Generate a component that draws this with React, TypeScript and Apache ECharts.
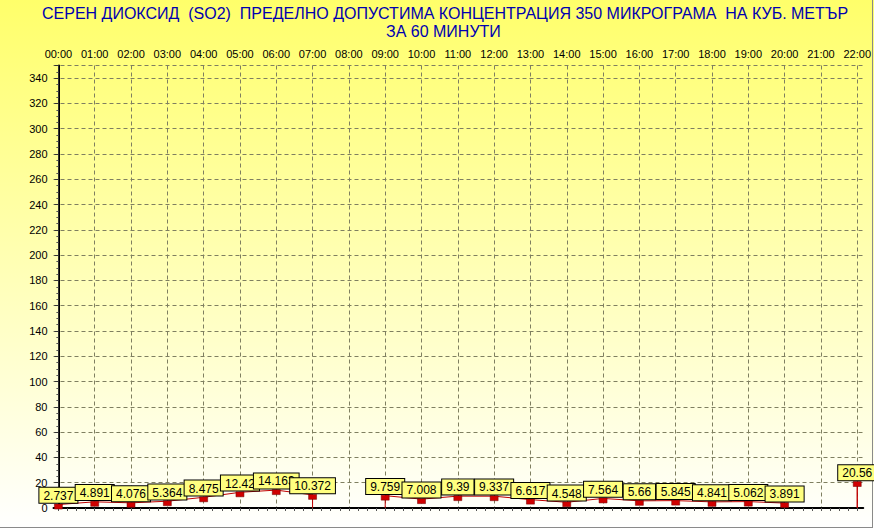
import React, { useEffect, useRef } from "react";
import * as echarts from "echarts";

const titleLine1 = "СЕРЕН ДИОКСИД  (SO2)  ПРЕДЕЛНО ДОПУСТИМА КОНЦЕНТРАЦИЯ 350 МИКРОГРАМА  НА КУБ. МЕТЪР";
const titleLine2 = "ЗА 60 МИНУТИ";

const hours = [
  "00:00", "01:00", "02:00", "03:00", "04:00", "05:00", "06:00", "07:00",
  "08:00", "09:00", "10:00", "11:00", "12:00", "13:00", "14:00", "15:00",
  "16:00", "17:00", "18:00", "19:00", "20:00", "21:00", "22:00",
];

const values: (number | null)[] = [
  2.737, 4.891, 4.076, 5.364, 8.475, 12.42, 14.163, 10.372,
  null, 9.759, 7.008, 9.39, 9.337, 6.617, 4.548, 7.564,
  5.66, 5.845, 4.841, 5.062, 3.891, null, 20.56,
];

const yMin = 0;
const yMax = 350;
const yStep = 20;

export default function App() {
  const ref = useRef<HTMLDivElement>(null);

  useEffect(() => {
    document.body.style.margin = "0";
    if (!ref.current) return;
    const chart = echarts.init(ref.current, null, { renderer: "svg" });

    const hourIdx = hours.map((_, i) => i);
    const quarterTicks: number[] = [];
    for (let i = 0; i < hours.length - 1; i++) {
      for (let q = 0; q < 4; q++) quarterTicks.push(i + q / 4);
    }
    quarterTicks.push(hours.length - 1);

    const xMin = -0.135;
    const xMax = hours.length - 1 + 0.165;

    const lineData: any[] = [];
    values.forEach((v, i) => {
      if (v == null) {
        lineData.push([i, "-"]);
        return;
      }
      const prevMissing = i === 0 || values[i - 1] == null;
      const nextMissing = i === values.length - 1 || values[i + 1] == null;
      if (prevMissing) lineData.push({ value: [i, 0], symbol: "none", label: { show: false } });
      lineData.push({ value: [i, v] });
      if (nextMissing) lineData.push({ value: [i, 0], symbol: "none", label: { show: false } });
    });

    const gridDash = { color: "#7f7f60", width: 1, type: [4, 3] as any };
    const font = "Liberation Sans, Arial";

    chart.setOption({
      animation: false,
      backgroundColor: {
        type: "linear",
        x: 0, y: 0, x2: 0, y2: 1,
        colorStops: [
          { offset: 0, color: "#ffff6a" },
          { offset: 1, color: "#ffffff" },
        ],
      },
      title: [
        {
          text: titleLine1,
          left: 42,
          top: 5,
          padding: 0,
          textStyle: { fontFamily: font, fontSize: 16, fontWeight: "normal", color: "#0000b0" },
        },
        {
          text: titleLine2,
          left: 386,
          top: 23,
          padding: 0,
          textStyle: { fontFamily: font, fontSize: 16, fontWeight: "normal", color: "#0000b0" },
        },
      ],
      grid: { left: 53.5, right: 9, top: 65.5, bottom: 21, containLabel: false },
      xAxis: [
        {
          type: "value",
          position: "top",
          min: xMin,
          max: xMax,
          axisLine: { show: false, lineStyle: { color: "#000" } },
          axisTick: { show: false, customValues: hourIdx },
          axisLabel: {
            customValues: hourIdx,
            formatter: (v: number) => hours[Math.round(v)] ?? "",
            color: "#000000",
            fontFamily: font,
            fontSize: 11,
            margin: 6,
          },
          splitLine: { show: true, lineStyle: gridDash },
        },
        {
          type: "value",
          position: "top",
          min: xMin,
          max: xMax,
          axisLine: { show: true, lineStyle: { color: "#000", width: 2 } },
          axisTick: { show: true, inside: true, length: 3, customValues: quarterTicks, lineStyle: { color: "#555", width: 1 } },
          axisLabel: { show: false },
          splitLine: { show: false },
        },
        {
          type: "value",
          position: "bottom",
          min: xMin,
          max: xMax,
          axisLine: { show: true, onZero: false, lineStyle: { color: "#000", width: 1, type: [3, 2] } },
          axisTick: { show: false },
          axisLabel: { show: false },
          splitLine: { show: false },
        },
      ],
      yAxis: [
        {
          type: "value",
          position: "left",
          min: yMin,
          max: yMax,
          interval: yStep,
          axisLine: { show: true, lineStyle: { color: "#000", width: 2 } },
          axisTick: { show: true, length: 4, lineStyle: { color: "#333" } },
          minorTick: { show: true, splitNumber: 4, length: 2, lineStyle: { color: "#555" } },
          axisLabel: {
            showMaxLabel: false,
            color: "#000",
            fontFamily: font,
            fontSize: 11,
            margin: 6,
          },
          splitLine: { show: true, lineStyle: gridDash },
        },
        {
          type: "value",
          position: "right",
          min: yMin,
          max: yMax,
          axisLine: { show: true, lineStyle: { color: "#333", width: 1 } },
          axisTick: { show: false },
          axisLabel: { show: false },
          splitLine: { show: false },
        },
      ],
      graphic: [
        { type: "line", shape: { x1: 0, y1: 527.5, x2: 873, y2: 527.5 }, style: { stroke: "#8a8a8a", lineWidth: 1 } },
        { type: "line", shape: { x1: 872.5, y1: 0, x2: 872.5, y2: 528 }, style: { stroke: "#8a8a8a", lineWidth: 1 } },
      ],
      series: [
        {
          type: "line",
          xAxisIndex: 0,
          yAxisIndex: 0,
          data: lineData,
          connectNulls: false,
          clip: false,
          lineStyle: { color: "#c00000", width: 1 },
          symbol: "rect",
          symbolSize: [8, 5],
          symbolOffset: [0, 2],
          showAllSymbol: true,
          itemStyle: { color: "#d00000", borderColor: "#700000", borderWidth: 0.5 },
          label: {
            show: true,
            position: "top",
            distance: 1,
            formatter: (p: any) => String(p.value[1]),
            color: "#000",
            fontFamily: font,
            fontSize: 12,
            backgroundColor: "#ffff80",
            borderColor: "#000",
            borderWidth: 1,
            padding: [2, 4, 1, 4],
          },
        },
      ],
    });

    return () => chart.dispose();
  }, []);

  return <div ref={ref} style={{ width: 874, height: 529 }} />;
}
